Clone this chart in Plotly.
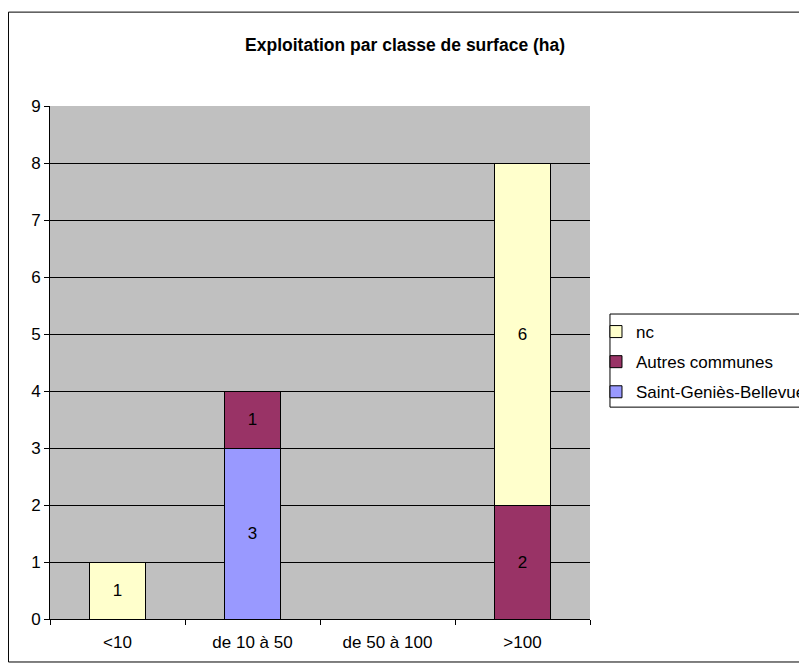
import plotly.graph_objects as go

categories = ["<10", "de 10 à 50", "de 50 à 100", ">100"]
saint_genies = [0, 3, 0, 0]
autres_communes = [0, 1, 0, 2]
nc = [1, 0, 0, 6]

# (name, values, color, legend rank) - stacked bottom to top
series = [
    ("Saint-Geniès-Bellevue", saint_genies, "#9999FF", 3),
    ("Autres communes", autres_communes, "#993366", 2),
    ("nc", nc, "#FFFFCC", 1),
]

fig = go.Figure()

for name, values, color, rank in series:
    fig.add_trace(go.Bar(
        x=categories,
        y=values,
        name=name,
        legendgroup=name,
        legendrank=rank,
        width=0.415,
        marker=dict(color=color, line=dict(color="black", width=1)),
        text=[str(v) if v else "" for v in values],
        textposition="inside",
        insidetextanchor="middle",
        textfont=dict(color="black", size=17),
        constraintext="none",
    ))

fig.update_layout(
    barmode="stack",
    width=799,
    height=663,
    font=dict(family="Arial, Liberation Sans, sans-serif", size=17, color="black"),
    title=dict(
        text="<b>Exploitation par classe de surface (ha)</b>",
        x=0.497, xanchor="center", y=0.944, yanchor="middle",
        font=dict(size=17.5),
    ),
    paper_bgcolor="white",
    plot_bgcolor="#C0C0C0",
    margin=dict(l=42, r=217, t=98, b=52, autoexpand=False),
    xaxis=dict(
        showline=True, linecolor="black", linewidth=1,
        ticks="outside", tickson="boundaries", ticklen=5, tickcolor="black",
        ticklabelstandoff=8,
        showgrid=False,
    ),
    yaxis=dict(
        range=[0, 9], dtick=1,
        showline=True, linecolor="black", linewidth=1,
        ticks="outside", ticklen=5, tickcolor="black",
        showgrid=True, gridcolor="black", gridwidth=1,
        zeroline=False,
    ),
    legend=dict(
        x=1.0111, xanchor="left", y=0.5945, yanchor="top",
        borderwidth=0,
        bgcolor="rgba(0,0,0,0)",
        traceorder="grouped",
        tracegroupgap=5,
        itemwidth=30,
        font=dict(size=17),
    ),
    shapes=[
        dict(
            type="rect", xref="paper", yref="paper",
            x0=-0.0769, x1=1.45, y0=-0.0838, y1=1.183,
            line=dict(color="black", width=1), layer="below",
        ),
        dict(
            type="rect", xref="paper", yref="paper",
            x0=1.037, x1=1.45, y0=0.413, y1=0.5945,
            line=dict(color="black", width=1), fillcolor="rgba(0,0,0,0)",
            layer="above",
        ),
    ],
)

fig.write_html("out.html")
